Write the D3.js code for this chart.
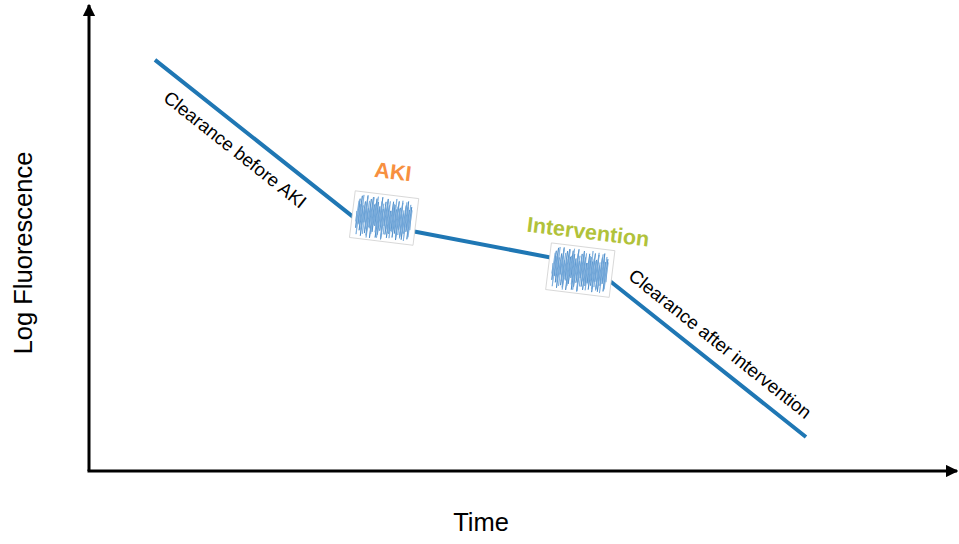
<!DOCTYPE html>
<html>
<head>
<meta charset="utf-8">
<script src="https://cdn.jsdelivr.net/npm/d3@7"></script>
<style>
  html, body { margin: 0; padding: 0; background: #fff; }
  svg { display: block; font-family: "Liberation Sans", Arial, sans-serif; }
</style>
</head>
<body>
<svg id="chart" width="959" height="544"></svg>
<script>
// Schematic clearance curve: log fluorescence over time (arbitrary units)
const times = [7.6, 31.0, 57.7, 82.6];
const logFluor = [88.4, 53.8, 44.3, 7.3];

// Events marked on the curve with a noisy measurement window
const eventNames = ["AKI", "Intervention"];
const eventTimes = [34.0, 56.6];
const eventLevels = [54.4, 43.2];
const eventColors = ["#f7903f", "#b1c23a"];

// Segment labels: which curve points each label runs between, and the side of the line
const segmentLabels = ["Clearance before AKI", "Clearance after intervention"];
const segmentSpans = [[0, 1], [2, 3]];
const segmentSides = [1, -1];

// Hand-read noise traces inside the measurement windows (normalised −1..1)
const noiseA = [0.2,-0.6,0.8,-0.4,0.95,-0.7,0.5,-0.95,0.7,-0.3,1.0,-0.8,0.4,-0.9,0.85,-0.5,0.95,-1.0,0.6,-0.7,
                0.9,-0.4,0.75,-0.95,0.55,-0.8,1.0,-0.6,0.45,-1.0,0.8,-0.35,0.95,-0.75,0.65,-0.9,0.4,-0.7,0.85,-0.55,
                0.7,-0.85,0.5,-0.65,0.9,-0.95,0.6,-0.45,0.85,-0.8,0.35,-0.9,0.75,-0.6,0.95,-0.5,0.55,-0.85,0.7,-0.4];
const noiseB = [-0.3,0.7,-0.9,0.55,-0.45,1.0,-0.65,0.35,-0.85,0.9,-0.6,0.75,-1.0,0.45,-0.55,0.95,-0.8,0.65,-0.35,1.0,
                -0.7,0.5,-0.95,0.8,-0.4,0.7,-1.0,0.6,-0.75,0.9,-0.5,0.85,-0.65,0.4,-0.9,0.75,-0.6,1.0,-0.45,0.65,
                -0.8,0.55,-0.7,0.95,-0.85,0.5,-0.6,0.9,-0.95,0.7,-0.4,0.8,-0.75,0.55];

const svg = d3.select("#chart");

const x = d3.scaleLinear().domain([0, 100]).range([89, 957]);
const y = d3.scaleLinear().domain([0, 100]).range([471, 6]);

// Axes drawn as arrows
const defs = svg.append("defs");
defs.append("marker")
  .attr("id", "arrow")
  .attr("viewBox", "0 0 10 10")
  .attr("refX", 9).attr("refY", 5)
  .attr("markerWidth", 4.2).attr("markerHeight", 4.2)
  .attr("markerUnits", "strokeWidth")
  .attr("orient", "auto")
  .append("path").attr("d", "M0,0 L10,5 L0,10 Z").attr("fill", "#000");

svg.append("line")
  .attr("x1", x(0)).attr("y1", y(0)).attr("x2", x(0)).attr("y2", y(100) - 1)
  .attr("stroke", "#000").attr("stroke-width", 3)
  .attr("marker-end", "url(#arrow)");
svg.append("line")
  .attr("x1", x(0) - 1.5).attr("y1", y(0)).attr("x2", x(100)).attr("y2", y(0))
  .attr("stroke", "#000").attr("stroke-width", 3)
  .attr("marker-end", "url(#arrow)");

// Axis titles
svg.append("text")
  .attr("x", 481).attr("y", 531)
  .attr("text-anchor", "middle")
  .attr("font-size", 25.5)
  .attr("fill", "#000")
  .text("Time");
svg.append("text")
  .attr("transform", "translate(32,253) rotate(-90)")
  .attr("text-anchor", "middle")
  .attr("font-size", 25.5)
  .attr("fill", "#000")
  .text("Log Fluorescence");

// Clearance curve
const pts = times.map((t, i) => [x(t), y(logFluor[i])]);
svg.append("path")
  .datum(pts)
  .attr("d", d3.line())
  .attr("fill", "none")
  .attr("stroke", "#1f77b4")
  .attr("stroke-width", 4);

// Segment labels running along the curve
const labelOffsets = [22, 18];
const labelShifts = [-11, 13];
segmentLabels.forEach((label, i) => {
  const [a, b] = segmentSpans[i];
  const p0 = pts[a], p1 = pts[b];
  const rad = Math.atan2(p1[1] - p0[1], p1[0] - p0[0]);
  const ang = rad * 180 / Math.PI;
  const mx = (p0[0] + p1[0]) / 2, my = (p0[1] + p1[1]) / 2;
  const off = labelOffsets[i] * segmentSides[i];
  const nx = -Math.sin(rad) * off, ny = Math.cos(rad) * off;
  const sx = Math.cos(rad) * labelShifts[i], sy = Math.sin(rad) * labelShifts[i];
  svg.append("text")
    .attr("transform", `translate(${mx + nx + sx},${my + ny + sy}) rotate(${ang})`)
    .attr("text-anchor", "middle")
    .attr("dominant-baseline", "middle")
    .attr("font-size", 18.5)
    .attr("fill", "#000")
    .text(label);
});

// Measurement windows with noisy signal
const boxW = 64, boxH = 47;
eventNames.forEach((name, i) => {
  const cx = x(eventTimes[i]), cy = y(eventLevels[i]);
  const g = svg.append("g").attr("transform", `translate(${cx},${cy}) rotate(7)`);
  g.append("rect")
    .attr("x", -boxW / 2).attr("y", -boxH / 2)
    .attr("width", boxW).attr("height", boxH)
    .attr("fill", "#fff")
    .attr("stroke", "#d0d0d0").attr("stroke-width", 0.8);

  const traces = [noiseA, noiseB];
  traces.forEach((tr, k) => {
    const nx = d3.scaleLinear().domain([0, tr.length - 1]).range([-boxW / 2 + 4, boxW / 2 - 5]);
    const ny = d3.scaleLinear().domain([-1, 1]).range([boxH / 2 - 2, -boxH / 2 + 3]);
    g.append("path")
      .datum(tr)
      .attr("d", d3.line().x((d, j) => nx(j)).y(d => ny(d)))
      .attr("fill", "none")
      .attr("stroke", k === 0 ? "#3b82c4" : "#6fa6da")
      .attr("stroke-width", 0.7)
      .attr("opacity", 0.95);
  });

  // Event name above the window
  svg.append("text")
    .attr("transform", `translate(${i === 0 ? cx + 8 : cx + 7},${cy - (i === 0 ? 39 : 31)}) rotate(7)`)
    .attr("text-anchor", "middle")
    .attr("font-size", 21.5)
    .attr("font-weight", "bold")
    .attr("fill", eventColors[i])
    .text(name);
});
</script>
</body>
</html>
